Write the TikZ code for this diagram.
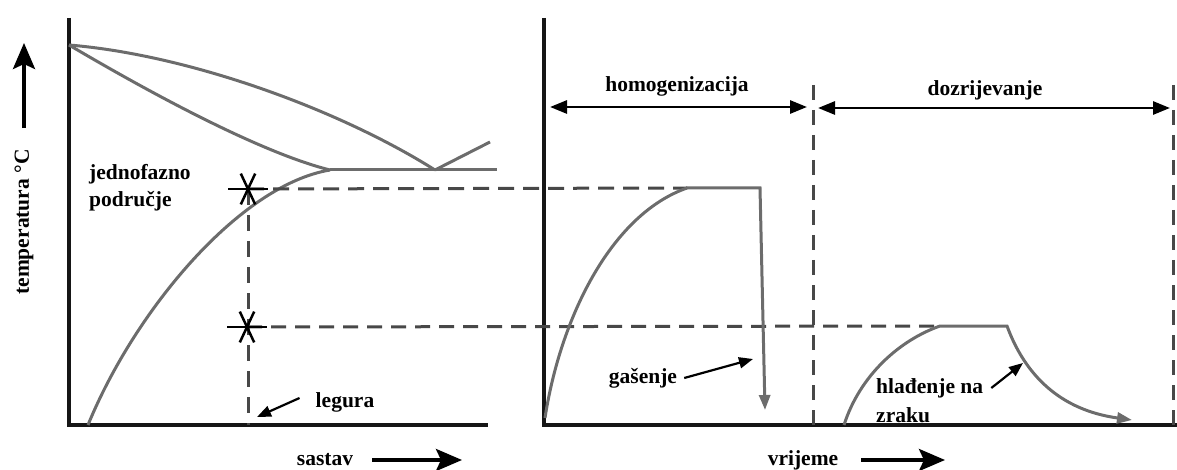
\documentclass[tikz,border=0pt]{standalone}
\usepackage{fontspec}
\setmainfont{Liberation Serif}
\usetikzlibrary{arrows.meta, calc}
\definecolor{curvegray}{RGB}{108,108,108}
\definecolor{dashgray}{RGB}{72,72,72}
\definecolor{axisblack}{RGB}{22,22,22}

\begin{document}
\begin{tikzpicture}[x=1pt, y=-1pt,
    axis/.style={axisblack, line width=4pt},
    curve/.style={curvegray, line width=3pt},
    guide/.style={dashgray, line width=3pt, dash pattern=on 16pt off 9pt},
    starline/.style={black, line width=2.5pt},
    lbl/.style={font=\bfseries\fontsize{21.5}{27}\selectfont, text=black, inner sep=1pt},
    pointer/.style={black, line width=2.2pt, -{Triangle[length=14pt,width=11pt]}},
    span/.style={black, line width=2.8pt, {Triangle[length=17pt,width=13pt]}-{Triangle[length=17pt,width=13pt]}},
    axarrow/.style={black, line width=3.8pt, -{Stealth[length=26pt,width=22pt,inset=5pt]}},
    tip/.style={-{Triangle[length=15pt,width=11pt]}}]
  \useasboundingbox (0,0) rectangle (1177,470);

  % Phase diagram axes
  \draw[axis] (69,18) -- (69,425) -- (488,425);
  % Liquidus, solidus, solvus
  \coordinate (top) at (69,45);
  \coordinate (eut) at (435,170);
  \coordinate (solend) at (330,170);
  \draw[curve] (top) .. controls (190,55) and (340,110) .. (eut);
  \draw[curve] (top) .. controls (120,75) and (250,150) .. (solend);
  \draw[curve] (88,425) .. controls (135,310) and (240,185) .. (solend);
  \draw[curve] (solend) -- (497,170);
  \draw[curve] (eut) -- (490,142);

  % Time axes and stage boundaries
  \draw[axis] (544,18) -- (544,425) -- (1177,425);
  \draw[guide, dash pattern=on 15pt off 10pt] (813,85) -- (813,425);
  \draw[guide, dash pattern=on 15pt off 10pt] (1173,85) -- (1173,425);
  \coordinate (homL) at (550,107);
  \coordinate (homR) at (807,107);
  \coordinate (dozL) at (818,108);
  \coordinate (dozR) at (1170,108);
  \draw[span] (homL) -- (homR);
  \draw[span] (dozL) -- (dozR);

  % Points on the alloy line
  \coordinate (starA) at (248,189);
  \coordinate (starB) at (247,327);
  \coordinate (alloy) at (248,425);
  \coordinate (platA) at (687,188);
  \coordinate (platB) at (940,326);
  \draw[guide] (starA) -- (platA);
  \draw[guide, dash pattern=on 15pt off 9pt] (starB) -- (platB);
  \draw[guide, dash pattern=on 16pt off 10pt] (starA) -- (alloy);
  \foreach \s in {starA, starB} {
    \draw[starline] ($(\s)+(-20,0)$) -- ($(\s)+(20,0)$);
    \foreach \a in {65, 115}
      \draw[starline] ($(\s)+(\a:17)$) -- ($(\s)+(\a:-17)$);
  }

  % Heat treatment curves
  \draw[curve, tip] (545,418) .. controls (560,320) and (610,215) .. (platA)
    -- (760,188) -- (765,410);
  \draw[curve, tip] (844,425) .. controls (860,375) and (900,340) .. (platB)
    -- (1007,326) .. controls (1025,375) and (1060,410) .. (1132,420);

  % Labels
  \node[lbl] (homog) at (677,86) {homogenizacija};
  \node[lbl] (dozr) at (985,90) {dozrijevanje};
  \node[lbl, align=left, anchor=west] (phase) at (88,188) {jednofazno\\područje};
  \node[lbl] (legura) at (345,402) {legura};
  \node[lbl] (gas) at (643,378) {gašenje};
  \node[lbl, anchor=west] (hlad) at (875,388) {hlađenje na};
  \node[lbl, anchor=west] (zraku) at (875,415) {zraku};
  \node[lbl] (sastav) at (325,460) {sastav};
  \node[lbl] (vrijeme) at (803,460) {vrijeme};
  \node[lbl, rotate=90] (temp) at (24,222) {temperatura °C};

  % Pointers
  \coordinate (alloyfoot) at (257,417);
  \coordinate (quenchpt) at (753,359);
  \coordinate (coolpt) at (1023,363);
  \draw[pointer] ([xshift=-15pt, yshift=4pt]legura.west) -- (alloyfoot);
  \draw[pointer] ([xshift=6pt]gas.east) -- (quenchpt);
  \draw[pointer] ([xshift=7pt]hlad.east) -- (coolpt);

  % Axis arrows
  \coordinate (sastavtip) at (462,460);
  \coordinate (vrijemetip) at (945,460);
  \coordinate (temptip) at (24,43);
  \draw[axarrow] ([xshift=18pt]sastav.east) -- (sastavtip);
  \draw[axarrow] ([xshift=22pt]vrijeme.east) -- (vrijemetip);
  \draw[axarrow] ($(temp.east)+(0,-20)$) -- (temptip);
\end{tikzpicture}
\end{document}
